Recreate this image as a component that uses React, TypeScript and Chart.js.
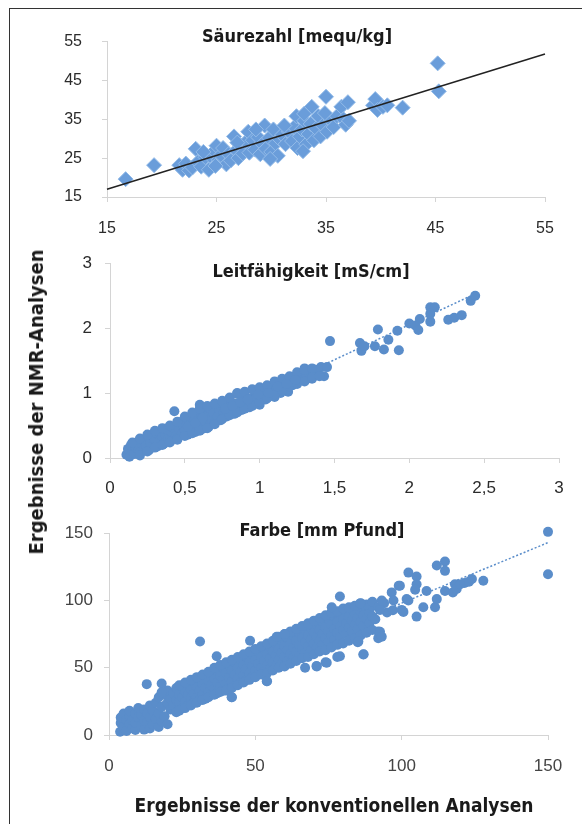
import React, { useEffect, useRef } from "react";
import { Chart, registerables } from "chart.js";

Chart.register(...registerables);

// ---------- Data ----------
// Panel 1: Säurezahl [mequ/kg] (x = conventional, y = NMR)
const acidPoints: [number, number][] = [
  [16.7, 19.6], [19.3, 23.2], [21.6, 23.2], [21.9, 22.0], [22.2, 23.6], [22.5, 21.8], [22.8, 22.6],
  [23.1, 27.4], [23.3, 24.0], [23.6, 22.8], [24.0, 25.2], [24.3, 22.0], [24.4, 25.6], [24.8, 26.8],
  [25.0, 28.2], [25.2, 24.6], [25.4, 25.8], [25.6, 27.6], [25.9, 23.4], [26.1, 26.0], [26.3, 24.4],
  [26.6, 30.6], [26.8, 27.0], [27.0, 25.0], [27.2, 28.4], [27.4, 26.2], [27.7, 29.2], [27.9, 31.8],
  [28.0, 26.4], [28.3, 29.6], [28.5, 27.2], [28.8, 30.4], [29.0, 26.0], [29.2, 28.6], [29.4, 33.4],
  [29.5, 27.4], [29.8, 30.2], [30.0, 26.6], [30.2, 32.4], [30.4, 28.8], [30.6, 25.6], [30.8, 29.8],
  [31.0, 31.0], [31.3, 28.6], [31.6, 31.8], [31.9, 29.4], [32.1, 33.0], [32.3, 35.8], [32.4, 27.6],
  [32.6, 30.6], [32.8, 32.4], [33.0, 34.6], [33.2, 28.6], [33.4, 31.2], [33.6, 33.8], [33.7, 38.2],
  [33.9, 29.6], [34.1, 32.6], [34.3, 35.8], [34.5, 30.6], [34.7, 33.4], [35.0, 40.8], [35.1, 31.8],
  [35.4, 34.8], [35.7, 33.0], [36.0, 35.8], [36.4, 38.2], [36.6, 35.0], [36.8, 33.6], [37.0, 39.4],
  [37.1, 34.6], [39.3, 38.6], [39.5, 40.2], [39.7, 37.4], [40.2, 38.2], [40.6, 38.6], [42.0, 38.0],
  [45.2, 49.4], [45.3, 42.2],
  [23.8, 26.6], [26.9, 29.0], [28.6, 32.4], [31.2, 33.4], [33.0, 36.4], [34.9, 36.6], [29.9, 24.8],
  [32.9, 26.8], [24.9, 23.0],
];
const acidTrend: [number, number][] = [[15, 17.0], [55, 51.8]];
const acidTicks = [15, 25, 35, 45, 55];

// Panel 2: Leitfähigkeit [mS/cm]
const condPoints: [number, number][] = [
  [0.11, 0.05], [0.12, 0.14], [0.13, 0.02], [0.14, 0.2], [0.15, 0.1], [0.16, 0.06], [0.17, 0.17],
  [0.18, 0.24], [0.19, 0.12], [0.2, 0.08], [0.21, 0.22], [0.22, 0.28], [0.23, 0.15], [0.24, 0.19],
  [0.25, 0.3], [0.26, 0.12], [0.27, 0.24], [0.28, 0.35], [0.29, 0.2], [0.3, 0.28], [0.31, 0.38],
  [0.32, 0.18], [0.33, 0.26], [0.34, 0.42], [0.35, 0.32], [0.36, 0.22], [0.37, 0.36], [0.38, 0.44],
  [0.39, 0.3], [0.4, 0.26], [0.41, 0.4], [0.42, 0.47], [0.43, 0.72], [0.44, 0.34], [0.45, 0.3],
  [0.46, 0.45], [0.47, 0.55], [0.48, 0.38], [0.49, 0.5], [0.5, 0.42], [0.51, 0.58], [0.52, 0.36],
  [0.53, 0.52], [0.54, 0.62], [0.55, 0.44], [0.56, 0.56], [0.57, 0.4], [0.58, 0.68], [0.59, 0.5],
  [0.6, 0.82], [0.61, 0.6], [0.62, 0.45], [0.63, 0.72], [0.64, 0.55], [0.65, 0.66], [0.66, 0.48],
  [0.67, 0.76], [0.68, 0.6], [0.69, 0.7], [0.7, 0.54], [0.71, 0.8], [0.72, 0.64], [0.73, 0.74],
  [0.74, 0.58], [0.75, 0.84], [0.76, 0.7], [0.78, 0.64], [0.79, 0.8], [0.8, 0.88], [0.81, 0.72],
  [0.83, 0.68], [0.84, 0.84], [0.85, 0.99], [0.86, 0.78], [0.88, 0.74], [0.89, 0.9], [0.9, 0.96],
  [0.91, 0.82], [0.93, 0.78], [0.94, 0.92], [0.96, 0.86], [0.97, 1.02], [0.98, 0.94], [1.0, 0.82],
  [1.01, 1.06], [1.02, 0.96], [1.04, 0.9], [1.05, 1.04], [1.07, 0.98], [1.08, 1.1], [1.1, 0.94],
  [1.11, 1.04], [1.13, 1.12], [1.14, 1.0], [1.16, 1.16], [1.17, 1.08], [1.19, 1.02], [1.2, 1.2],
  [1.22, 1.12], [1.23, 1.24], [1.25, 1.16], [1.26, 1.3], [1.28, 1.2], [1.3, 1.38], [1.31, 1.26],
  [1.33, 1.3], [1.35, 1.22], [1.37, 1.36], [1.39, 1.3], [1.41, 1.4], [1.43, 1.26], [1.45, 1.4],
  [0.15, 0.24], [0.2, 0.3], [0.25, 0.36], [0.3, 0.42], [0.35, 0.46], [0.4, 0.5], [0.45, 0.56],
  [0.5, 0.64], [0.55, 0.7], [0.6, 0.76], [0.65, 0.8], [0.7, 0.84], [0.75, 0.88], [0.8, 0.93],
  [0.85, 1.0], [0.9, 1.02], [0.95, 1.06], [1.0, 1.09], [1.05, 1.12], [1.1, 1.18], [1.15, 1.22],
  [1.2, 1.26], [1.25, 1.32], [1.3, 1.36], [1.35, 1.38],
  [0.2, 0.04], [0.25, 0.1], [0.3, 0.16], [0.35, 0.2], [0.4, 0.24], [0.45, 0.28], [0.5, 0.34],
  [0.55, 0.38], [0.6, 0.42], [0.65, 0.46], [0.7, 0.52], [0.75, 0.6], [0.8, 0.66], [0.85, 0.7],
  [0.9, 0.76], [0.95, 0.8], [1.0, 0.86], [1.05, 0.92], [1.1, 0.98], [1.15, 1.04], [1.2, 1.1],
  [1.25, 1.14], [1.3, 1.18], [1.35, 1.24], [1.4, 1.26],
  [0.52, 0.48], [0.57, 0.54], [0.62, 0.62], [0.77, 0.76], [0.82, 0.8], [0.87, 0.86], [0.92, 0.9],
  [0.99, 0.98], [1.06, 1.0], [1.12, 1.1], [1.18, 1.14], [1.24, 1.2],
  [1.47, 1.8], [1.67, 1.77], [1.68, 1.65], [1.7, 1.72], [1.77, 1.72], [1.79, 1.98], [1.83, 1.67],
  [1.86, 1.82], [1.92, 1.96], [1.93, 1.66], [2.0, 2.07], [2.04, 2.04], [2.06, 1.97], [2.07, 2.14],
  [2.14, 2.32], [2.17, 2.32], [2.14, 2.1], [2.14, 2.22], [2.26, 2.13], [2.3, 2.16], [2.35, 2.2],
  [2.41, 2.42], [2.44, 2.5],
];
const condTrend: [number, number][] = [[0.1, 0.0], [2.45, 2.54]];
const condXTicks = [0, 0.5, 1, 1.5, 2, 2.5, 3];
const condYTicks = [0, 1, 2, 3];

// Panel 3: Farbe [mm Pfund]
const colorPoints: [number, number][] = [
  [3.8, 2.4], [4, 9], [4, 13], [5, 6], [5, 16], [6, 11], [6, 3], [7, 8], [7, 14], [7, 18], [8, 5],
  [8, 11], [9, 16], [9, 3.7], [9, 9], [10, 13], [10, 20], [11, 7], [11, 15], [12, 4], [12, 11],
  [12, 19], [13, 9], [13, 16], [14, 4.9], [14, 13], [14, 22], [15, 8], [15, 18], [16, 12], [16, 24],
  [17, 6], [17, 16], [17, 28], [18, 10], [18, 21], [19, 14], [19, 30], [20, 8], [20, 24], [20, 33],
  [12.9, 37.8], [18, 38.3], [18, 31.7],
  [21, 19], [21, 27], [22, 22], [22, 31], [23, 17], [23, 26], [23, 35], [24, 24], [24, 30], [25, 20],
  [25, 28], [25, 36], [26, 25], [26, 33], [27, 22], [27, 30], [27, 38], [28, 27], [28, 34], [29, 24],
  [29, 31], [29, 40], [30, 28], [30, 36], [31, 26], [31, 33], [31, 42], [32, 30], [32, 38], [33, 27],
  [33, 35], [33, 44], [34, 32], [34, 40], [35, 30], [35, 37], [35, 46], [36, 34], [36, 42], [37, 31],
  [37, 39], [37, 48], [38, 36], [38, 44], [39, 33], [39, 41], [39, 50], [40, 38], [40, 46], [41, 35],
  [41, 43], [41, 52], [42, 28], [42, 40], [42, 48], [43, 37], [43, 45], [43, 54], [44, 42], [44, 50],
  [45, 39], [45, 47], [45, 56], [46, 44], [46, 52], [47, 41], [47, 49], [47, 58], [48, 46], [48, 54],
  [49, 43], [49, 51], [49, 60], [50, 48], [50, 56], [51, 45], [51, 53], [51, 62], [52, 50], [52, 58],
  [53, 47], [53, 55], [53, 64], [54, 40], [54, 52], [54, 60], [55, 49], [55, 57], [55, 66], [56, 54],
  [56, 62], [57, 51], [57, 59], [57, 68], [58, 56], [58, 64], [59, 53], [59, 61], [59, 70], [60, 58],
  [60, 66], [61, 55], [61, 63], [61, 72], [62, 60], [62, 68], [63, 57], [63, 65], [63, 74], [64, 62],
  [64, 70], [65, 59], [65, 67], [65, 76], [66, 64], [66, 72], [67, 50], [67, 61], [67, 69], [67, 78],
  [68, 66], [68, 74], [69, 63], [69, 71], [69, 80], [70, 68], [70, 76], [71, 51], [71, 65], [71, 73],
  [71, 82], [72, 70], [72, 78], [73, 67], [73, 75], [73, 84], [74, 54], [74, 72], [74, 80], [75, 69],
  [75, 77], [75, 86], [76, 74], [76, 82], [77, 71], [77, 79], [77, 88], [78, 58], [78, 76], [78, 84],
  [79, 73], [79, 81], [79, 90], [80, 78], [80, 86], [81, 75], [81, 83], [81, 92], [82, 80], [82, 88],
  [83, 77], [83, 85], [83, 94], [84, 82], [84, 90], [85, 69], [85, 79], [85, 87], [86, 84], [86, 92],
  [86, 97], [87, 60], [87, 81], [87, 89], [88, 86], [88, 94], [89, 83], [89, 91], [90, 88], [90, 96],
  [91, 86], [92, 72], [92, 77], [88, 97], [90, 99], [92, 95], [94, 98], [95, 91],
  [24, 37], [26, 39], [28, 41], [30, 43], [32, 45], [34, 47], [36, 50], [38, 52], [40, 54], [42, 56],
  [44, 58], [46, 60], [48, 62], [50, 64], [52, 66], [54, 68], [56, 70], [58, 73], [60, 75], [62, 77],
  [64, 79], [66, 81], [68, 83], [70, 85], [72, 87], [74, 89], [76, 91], [78, 92], [80, 94], [82, 95],
  [84, 96], [86, 98],
  [24, 18], [26, 20], [28, 22], [30, 24], [32, 26], [34, 28], [36, 30], [38, 32], [40, 33], [42, 35],
  [44, 37], [46, 39], [48, 41], [50, 43], [52, 45], [54, 46], [56, 48], [58, 50], [60, 51], [62, 53],
  [64, 55], [66, 57], [68, 58], [70, 60], [72, 62], [74, 63], [76, 65], [78, 67], [80, 68], [82, 70],
  [84, 72], [86, 74], [88, 76], [90, 78],
  [31.1, 69.5], [36.8, 58.5], [48.2, 70], [57.3, 73], [60.1, 75], [53.9, 40], [41.9, 28],
  [70.9, 51.2], [74.4, 53.7], [78.9, 58.5], [86.9, 59.8], [85.2, 69.5], [92.6, 76.8], [93.2, 73],
  [78.9, 103], [76.1, 95], [85.8, 97.7], [92.6, 93], [93.2, 100], [96.6, 106], [97.2, 100],
  [97, 92.7], [99, 110.9], [99.4, 111], [100.6, 91.5], [100, 93], [101.7, 101], [102.3, 100],
  [102.3, 120.7], [105.1, 117.8], [105.1, 112], [104.6, 108], [105.1, 88], [107.4, 95], [108.5, 107],
  [111.4, 95], [112, 101], [112, 126], [114.8, 129], [114.8, 122], [114.8, 107], [117.5, 106],
  [118.2, 112], [118.8, 108.5], [120, 112], [121.5, 113], [123, 114], [124, 116], [127.9, 114.6],
  [150, 151], [150, 119.5],
];
const colorTrend: [number, number][] = [[4, 11.6], [150, 143]];
const colorTicks = [0, 50, 100, 150];

// ---------- Chart helpers ----------
const TICK_FONT = '"Liberation Sans", Arial, sans-serif';
const TITLE_FONT = '"Liberation Sans Narrow", "DejaVu Sans Condensed", "Liberation Sans", sans-serif';
const AXIS_GRAY = "#d4d4d4";
const POINT_BLUE = "#5a8dca";

const fmt = (v: number) => String(v).replace(".", ",");

type PanelSpec = {
  left: number; top: number; width: number; height: number;
  yAxisW: number; xAxisH: number; padTop: number; padRight: number;
  xMin: number; xMax: number; yMin: number; yMax: number;
  xTicks: number[]; yTicks: number[];
  xPad: number; yPad: number; fontSize: number; tickColor: string;
  datasets: any[];
};

function buildConfig(p: PanelSpec): any {
  const axis = (min: number, max: number, ticks: number[], pad: number, isX: boolean) => ({
    type: "linear",
    min, max,
    afterBuildTicks: (s: any) => { s.ticks = ticks.map((v) => ({ value: v })); },
    afterFit: (s: any) => { if (isX) s.height = p.xAxisH; else s.width = p.yAxisW; },
    ticks: {
      padding: pad,
      color: p.tickColor,
      font: { family: TICK_FONT, size: p.fontSize },
      callback: (v: any) => fmt(v),
      maxRotation: 0,
      autoSkip: false,
    },
    grid: { drawOnChartArea: false, drawTicks: true, tickLength: 5, color: AXIS_GRAY, lineWidth: 1 },
    border: { display: true, color: AXIS_GRAY, width: 1 },
  });
  return {
    type: "scatter",
    data: { datasets: p.datasets },
    options: {
      responsive: false,
      animation: false,
      events: [],
      layout: { padding: { top: p.padTop, right: p.padRight, left: 0, bottom: 0 } },
      plugins: { legend: { display: false }, tooltip: { enabled: false }, title: { display: false } },
      scales: {
        x: axis(p.xMin, p.xMax, p.xTicks, p.xPad, true),
        y: axis(p.yMin, p.yMax, p.yTicks, p.yPad, false),
      },
    },
  };
}

function Panel({ spec }: { spec: PanelSpec }) {
  const ref = useRef<HTMLCanvasElement>(null);
  useEffect(() => {
    const chart = new Chart(ref.current as HTMLCanvasElement, buildConfig(spec));
    return () => chart.destroy();
  }, []);
  return (
    <canvas
      ref={ref}
      width={spec.width}
      height={spec.height}
      style={{ position: "absolute", left: spec.left, top: spec.top, width: spec.width, height: spec.height }}
    />
  );
}

const toXY = (arr: [number, number][]) => arr.map(([x, y]) => ({ x, y }));

const acidSpec: PanelSpec = {
  left: 40, top: 12, width: 535, height: 235,
  yAxisW: 67, xAxisH: 50, padTop: 18, padRight: 30,
  xMin: 15, xMax: 55, yMin: 15, yMax: 55,
  xTicks: acidTicks, yTicks: acidTicks,
  xPad: 17, yPad: 20, fontSize: 16, tickColor: "#2b2b2b",
  datasets: [
    {
      data: toXY(acidTrend), showLine: true, borderColor: "#222", borderWidth: 1.5,
      pointRadius: 0, fill: false, clip: false,
    },
    {
      data: toXY(acidPoints), pointStyle: "rectRot", pointRadius: 7.5, clip: false,
      backgroundColor: "#6a9dda", borderColor: "#93bbe8", borderWidth: 1,
    },
  ],
};

const condSpec: PanelSpec = {
  left: 40, top: 240, width: 540, height: 265,
  yAxisW: 70, xAxisH: 47, padTop: 18, padRight: 21,
  xMin: 0, xMax: 3, yMin: 0, yMax: 3,
  xTicks: condXTicks, yTicks: condYTicks,
  xPad: 15, yPad: 13, fontSize: 17, tickColor: "#2b2b2b",
  datasets: [
    {
      data: toXY(condPoints), pointStyle: "circle", pointRadius: 5, clip: false,
      backgroundColor: POINT_BLUE, borderWidth: 0,
    },
    {
      data: toXY(condTrend), showLine: true, borderColor: POINT_BLUE, borderWidth: 1.5,
      borderDash: [2, 2], pointRadius: 0, fill: false, clip: false,
    },
  ],
};

const colorSpec: PanelSpec = {
  left: 40, top: 512, width: 540, height: 270,
  yAxisW: 69, xAxisH: 47, padTop: 18, padRight: 32,
  xMin: 0, xMax: 150, yMin: 0, yMax: 150,
  xTicks: colorTicks, yTicks: colorTicks,
  xPad: 16, yPad: 11, fontSize: 17, tickColor: "#444",
  datasets: [
    {
      data: toXY(colorPoints), pointStyle: "circle", pointRadius: 5, clip: false,
      backgroundColor: POINT_BLUE, borderWidth: 0,
    },
    {
      data: toXY(colorTrend), showLine: true, borderColor: POINT_BLUE, borderWidth: 1.5,
      borderDash: [2, 2], pointRadius: 0, fill: false, clip: false,
    },
  ],
};

const titleStyle = (cx: number, cy: number, size = 18): React.CSSProperties => ({
  position: "absolute",
  left: cx,
  top: cy,
  transform: "translate(-50%, -50%)",
  fontFamily: TITLE_FONT,
  fontWeight: "bold",
  fontSize: size,
  color: "#1a1a1a",
  whiteSpace: "nowrap",
  zIndex: 5,
});

export default function App() {
  return (
    <div
      style={{
        position: "fixed", left: 0, top: 0, width: 582, height: 824,
        overflow: "hidden", background: "#fff",
      }}
    >
      <div
        style={{
          position: "absolute", left: 9, top: 8, width: 700, height: 900,
          border: "1.5px solid #333", boxSizing: "border-box",
        }}
      />
      <Panel spec={acidSpec} />
      <Panel spec={condSpec} />
      <Panel spec={colorSpec} />
      <div style={titleStyle(297, 35)}>Säurezahl [mequ/kg]</div>
      <div style={titleStyle(311, 270)}>Leitfähigkeit [mS/cm]</div>
      <div style={titleStyle(322, 529)}>Farbe [mm Pfund]</div>
      <div
        style={{
          ...titleStyle(36, 402, 20),
          transform: "translate(-50%, -50%) rotate(-90deg)",
        }}
      >
        Ergebnisse der NMR-Analysen
      </div>
      <div style={titleStyle(334, 805, 19)}>Ergebnisse der konventionellen Analysen</div>
    </div>
  );
}
